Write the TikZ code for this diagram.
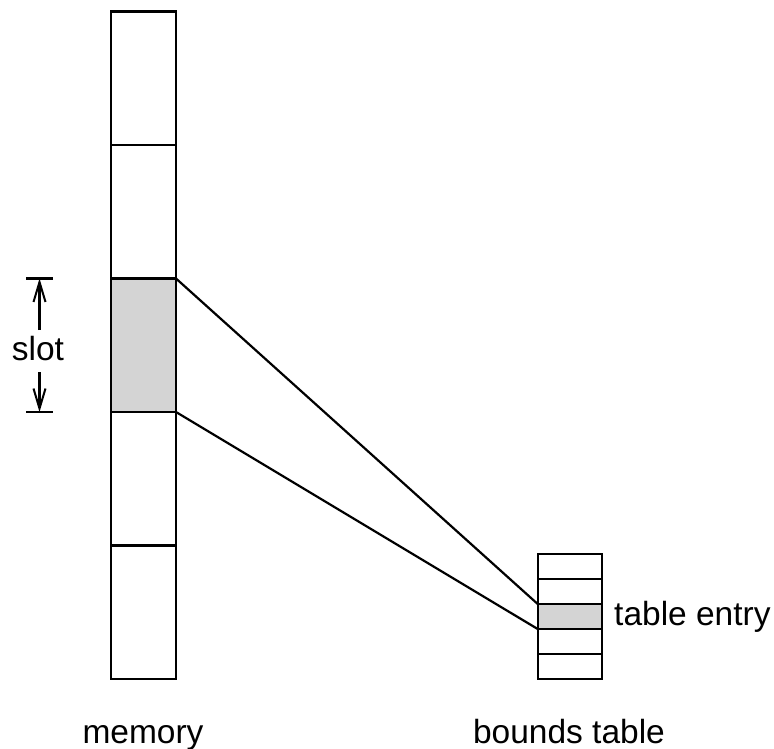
\documentclass[tikz,border=0pt]{standalone}
\usepackage{fontspec}
\setmainfont{Liberation Sans}
\usetikzlibrary{arrows.meta}
\begin{document}
\begin{tikzpicture}[x=1pt,y=-1pt,
  cell/.style={draw, line width=2.2pt, rectangle, inner sep=0pt, outer sep=0pt,
               minimum width=65pt, minimum height=133.5pt},
  entry/.style={draw, line width=2.2pt, rectangle, inner sep=0pt, outer sep=0pt,
               minimum width=64pt, minimum height=25pt},
  hot/.style={fill=black!17},
  lbl/.style={font=\fontsize{33.5}{40}\selectfont, inner sep=0pt},
  link/.style={line width=2.2pt},
  dimline/.style={line width=2.2pt, -{Straight Barb[length=20pt,width=12pt,line width=2pt]}}]
\useasboundingbox (0,0) rectangle (774,749);

% memory column
\node[cell]      (m1) at (143.5, 78.25) {};
\node[cell]      (m2) at (143.5,211.75) {};
\node[cell,hot]  (m3) at (143.5,345.25) {};
\node[cell]      (m4) at (143.5,478.75) {};
\node[cell]      (m5) at (143.5,612.25) {};

% bounds table
\node[entry]     (b1) at (569.7,566.5) {};
\node[entry]     (b2) at (569.7,591.5) {};
\node[entry,hot] (b3) at (569.7,616.5) {};
\node[entry]     (b4) at (569.7,641.5) {};
\node[entry]     (b5) at (569.7,666.5) {};

% mapping of the slot to its entry
\draw[link] (m3.north east) -- (b3.north west);
\draw[link] (m3.south east) -- (b3.south west);

% slot size marker
\coordinate (st) at (39.5,278.5);
\coordinate (sb) at (39.5,412);
\draw[line width=2.2pt] (26,278.5) -- (53,278.5);
\draw[line width=2.2pt] (26,412) -- (53,412);
\node[lbl, anchor=base] (slot) at (38,360) {slot};
\coordinate (su) at (39.5,330);
\coordinate (sd) at (39.5,372);
\draw[dimline] (su) -- (st);
\draw[dimline] (sd) -- (sb);

% labels
\node[lbl, anchor=base] (mem) at (143,743) {memory};
\node[lbl, anchor=base] (bt) at (569,743) {bounds table};
\node[lbl, anchor=base west] (te) at (614,625) {table entry};
\end{tikzpicture}
\end{document}
